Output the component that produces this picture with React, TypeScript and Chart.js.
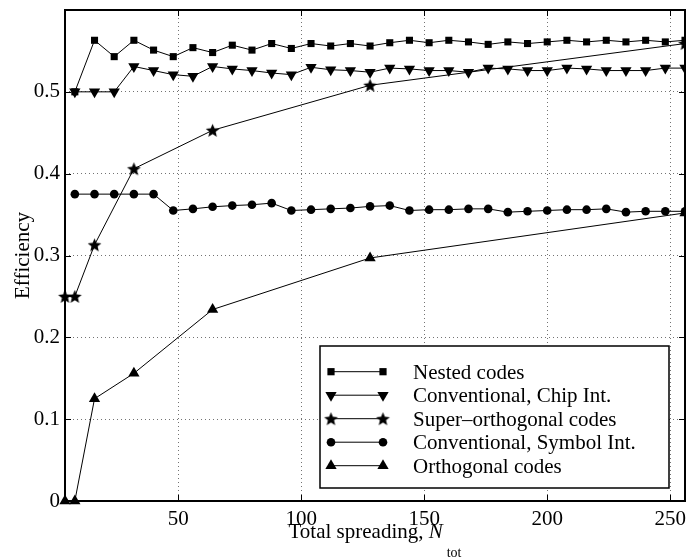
import React, { useEffect, useRef } from 'react';
import { Chart, registerables } from 'chart.js';
Chart.register(...registerables);

// ---- data ----
const xFine = [8, 16, 24, 32, 40, 48, 56, 64, 72, 80, 88, 96, 104, 112, 120, 128, 136, 144, 152, 160, 168, 176, 184, 192, 200, 208, 216, 224, 232, 240, 248, 256];
const xCoarse = [4, 8, 16, 32, 64, 128, 256];

const nestedCodes = [0.500, 0.563, 0.543, 0.563, 0.551, 0.543, 0.554, 0.548, 0.557, 0.551, 0.559, 0.553, 0.559, 0.556, 0.559, 0.556, 0.560, 0.563, 0.560, 0.563, 0.561, 0.558, 0.561, 0.559, 0.561, 0.563, 0.561, 0.563, 0.561, 0.563, 0.561, 0.563];
const chipInt = [0.500, 0.500, 0.500, 0.531, 0.526, 0.521, 0.519, 0.531, 0.528, 0.526, 0.523, 0.521, 0.530, 0.527, 0.526, 0.524, 0.529, 0.528, 0.526, 0.526, 0.524, 0.529, 0.528, 0.526, 0.526, 0.529, 0.528, 0.526, 0.526, 0.526, 0.529, 0.529];
const superOrthogonal = [0.25, 0.25, 0.313, 0.406, 0.453, 0.508, 0.559];
const symbolInt = [0.375, 0.375, 0.375, 0.375, 0.375, 0.355, 0.357, 0.3595, 0.361, 0.362, 0.364, 0.355, 0.356, 0.357, 0.358, 0.360, 0.361, 0.355, 0.356, 0.356, 0.357, 0.357, 0.353, 0.354, 0.355, 0.356, 0.356, 0.357, 0.353, 0.354, 0.354, 0.354];
const orthogonalCodes = [0, 0, 0.125, 0.156, 0.234, 0.297, 0.352];

const xTicks = [50, 100, 150, 200, 250];
const yTicks = [0, 0.1, 0.2, 0.3, 0.4, 0.5];
const seriesNames = ['Nested codes', 'Conventional, Chip Int.', 'Super\u2013orthogonal codes', 'Conventional, Symbol Int.', 'Orthogonal codes'];
const markerKinds = ['square', 'tdown', 'star', 'circle', 'tup'];

const FONT = '"Liberation Serif", "Times New Roman", serif';

function makeStar(R: number) {
  const c = document.createElement('canvas');
  const s = Math.ceil(R * 2 + 2);
  c.width = s; c.height = s;
  const g = c.getContext('2d')!;
  g.beginPath();
  for (let i = 0; i < 10; i++) {
    const r = i % 2 === 0 ? R : R * 0.45;
    const a = -Math.PI / 2 + (i * Math.PI) / 5;
    g.lineTo(s / 2 + r * Math.cos(a), s / 2 + 0.6 + r * Math.sin(a));
  }
  g.closePath();
  g.fillStyle = '#000';
  g.fill();
  return c;
}

function drawMarker(ctx: CanvasRenderingContext2D, kind: string, x: number, y: number, star: HTMLCanvasElement) {
  ctx.save();
  ctx.fillStyle = '#000';
  ctx.beginPath();
  if (kind === 'square') {
    const h = 3.6;
    ctx.rect(x - h, y - h, 2 * h, 2 * h);
    ctx.fill();
  } else if (kind === 'circle') {
    ctx.arc(x, y, 4.3, 0, Math.PI * 2);
    ctx.fill();
  } else if (kind === 'tup' || kind === 'tdown') {
    const r = 6.5;
    const sgn = kind === 'tup' ? 1 : -1;
    for (let i = 0; i < 3; i++) {
      const a = (i * 2 * Math.PI) / 3;
      ctx.lineTo(x + Math.sin(a) * r, y - sgn * Math.cos(a) * r);
    }
    ctx.closePath();
    ctx.fill();
  } else if (kind === 'star') {
    ctx.drawImage(star, x - star.width / 2, y - star.height / 2);
  }
  ctx.restore();
}

export default function App() {
  const ref = useRef<HTMLCanvasElement>(null);
  useEffect(() => {
    const star = makeStar(7.2);
    const pts = (xs: number[], ys: number[]) => xs.map((x, i) => ({ x, y: ys[i] }));
    const base = {
      borderColor: '#000',
      backgroundColor: '#000',
      borderWidth: 1,
      pointBackgroundColor: '#000',
      pointBorderColor: '#000',
      pointBorderWidth: 0,
      pointHoverRadius: 0,
      tension: 0,
      fill: false,
      clip: false as any,
    };
    const framePlugin = {
      id: 'frameAndLegend',
      beforeDatasetsDraw(chart: any) {
        const { ctx, chartArea: a, scales } = chart;
        ctx.save();
        ctx.strokeStyle = '#000';
        ctx.lineWidth = 1;
        const tl = 6;
        const ln = (x1: number, y1: number, x2: number, y2: number) => {
          ctx.beginPath(); ctx.moveTo(x1, y1); ctx.lineTo(x2, y2); ctx.stroke();
        };
        xTicks.forEach((v) => {
          const px = Math.round(scales.x.getPixelForValue(v)) + 0.5;
          ln(px, a.bottom, px, a.bottom - tl);
          ln(px, a.top, px, a.top + tl);
        });
        yTicks.forEach((v) => {
          const py = Math.round(scales.y.getPixelForValue(v)) + 0.5;
          ln(a.left, py, a.left + tl, py);
          ln(a.right, py, a.right - tl, py);
        });
        ctx.lineWidth = 2;
        ctx.strokeRect(a.left, a.top, a.right - a.left, a.bottom - a.top);
        ctx.restore();
      },
      afterDatasetsDraw(chart: any) {
        const { ctx, chartArea: a } = chart;
        ctx.save();
        const bx = 320, by = 346;
        const bw = a.right - 16 - bx, bh = a.bottom - 13 - by;
        ctx.fillStyle = '#fff';
        ctx.fillRect(bx, by, bw, bh);
        ctx.strokeStyle = '#000';
        ctx.lineWidth = 1.5;
        ctx.strokeRect(bx, by, bw, bh);
        ctx.font = `21px ${FONT}`;
        ctx.textBaseline = 'alphabetic';
        ctx.textAlign = 'left';
        seriesNames.forEach((name, i) => {
          const ry = 371.7 + i * 23.5;
          ctx.lineWidth = 1;
          ctx.beginPath();
          ctx.moveTo(bx + 11, ry); ctx.lineTo(bx + 63, ry); ctx.stroke();
          drawMarker(ctx, markerKinds[i], bx + 11, ry, star);
          drawMarker(ctx, markerKinds[i], bx + 63, ry, star);
          ctx.fillStyle = '#000';
          ctx.fillText(name, bx + 93, ry + 6.8);
        });
        const t1 = 'Total spreading, ';
        ctx.font = `21px ${FONT}`;
        const w1 = ctx.measureText(t1).width;
        ctx.font = `italic 21px ${FONT}`;
        const w2 = ctx.measureText('N').width;
        ctx.font = `14px ${FONT}`;
        const w3 = ctx.measureText('tot').width;
        const total = w1 + w2 + 4 + w3;
        let tx = (a.left + a.right) / 2 - total / 2;
        const tyBase = 537.7;
        ctx.fillStyle = '#000';
        ctx.font = `21px ${FONT}`;
        ctx.fillText(t1, tx, tyBase);
        tx += w1;
        ctx.font = `italic 21px ${FONT}`;
        ctx.fillText('N', tx, tyBase);
        tx += w2 + 4;
        ctx.font = `14px ${FONT}`;
        ctx.fillText('tot', tx, tyBase + 19);
        ctx.font = `21px ${FONT}`;
        ctx.translate(29, (a.top + a.bottom) / 2);
        ctx.rotate(-Math.PI / 2);
        ctx.textAlign = 'center';
        ctx.fillText('Efficiency', 0, 0);
        ctx.restore();
      },
    };
    const chart = new Chart(ref.current!, {
      type: 'line',
      data: {
        datasets: [
          { ...base, label: seriesNames[0], data: pts(xFine, nestedCodes), pointStyle: 'rect', pointRadius: 5 },
          { ...base, label: seriesNames[1], data: pts(xFine, chipInt), pointStyle: 'triangle', pointRotation: 180, pointRadius: 6.5 },
          { ...base, label: seriesNames[2], data: pts(xCoarse, superOrthogonal), pointStyle: star as any, pointRadius: 7 },
          { ...base, label: seriesNames[3], data: pts(xFine, symbolInt), pointStyle: 'circle', pointRadius: 4.3 },
          { ...base, label: seriesNames[4], data: pts(xCoarse, orthogonalCodes), pointStyle: 'triangle', pointRadius: 6.5 },
        ] as any,
      },
      options: {
        animation: false,
        responsive: false,
        maintainAspectRatio: false,
        devicePixelRatio: 1,
        layout: { autoPadding: false, padding: { top: 10, right: 1, left: 0, bottom: 0 } },
        plugins: { legend: { display: false }, tooltip: { enabled: false } },
        events: [],
        scales: {
          x: {
            type: 'linear',
            min: 4,
            max: 256,
            afterBuildTicks: (s: any) => { s.ticks = xTicks.map((v) => ({ value: v })); },
            afterFit: (s: any) => { s.height = 56; s.paddingLeft = 0; s.paddingRight = 0; s.paddingTop = 0; s.paddingBottom = 0; },
            grid: { color: 'rgba(0,0,0,0.55)', lineWidth: 1, drawTicks: false },
            border: { display: false, dash: [1, 3] },
            ticks: { color: '#000', font: { family: FONT, size: 21 }, padding: 6, maxRotation: 0, autoSkip: false },
          },
          y: {
            type: 'linear',
            min: 0,
            max: 0.6,
            afterBuildTicks: (s: any) => { s.ticks = yTicks.map((v) => ({ value: v })); },
            afterFit: (s: any) => { s.width = 65; s.paddingTop = 0; s.paddingBottom = 0; s.paddingLeft = 0; s.paddingRight = 0; },
            grid: { color: 'rgba(0,0,0,0.55)', lineWidth: 1, drawTicks: false },
            border: { display: false, dash: [1, 3] },
            ticks: { color: '#000', font: { family: FONT, size: 21 }, padding: 5, autoSkip: false, callback: (v: any) => String(Number(v)) },
          },
        },
      } as any,
      plugins: [framePlugin],
    });
    return () => chart.destroy();
  }, []);
  return (
    <div style={{ position: 'absolute', left: 0, top: 0, width: 686, height: 557, background: '#fff' }}>
      <canvas ref={ref} width={686} height={557} style={{ display: 'block' }} />
    </div>
  );
}
